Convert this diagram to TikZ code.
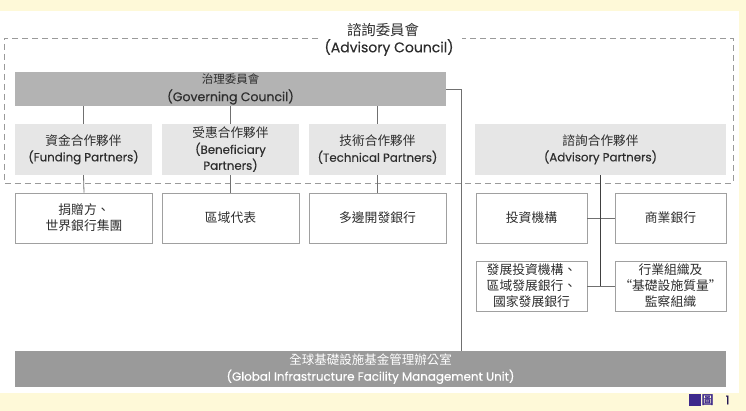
\documentclass[tikz,border=0pt]{standalone}
\usepackage{fontspec}
\setmainfont{Poppins}[FakeBold=0.35]
\newfontfamily\cjk{Noto Sans CJK TC}
\definecolor{bgyellow}{HTML}{FEF9D8}
\definecolor{govgray}{HTML}{B3B3B3}
\definecolor{partgray}{HTML}{E6E6E6}
\definecolor{gifgray}{HTML}{9A9A9A}
\definecolor{txt}{HTML}{2E2E2E}
\definecolor{linegray}{HTML}{707070}
\definecolor{boxline}{HTML}{A0A0A0}
\definecolor{dashgray}{HTML}{9A9A9A}
\definecolor{figpurple}{HTML}{3E2A8C}
\newcommand{\zh}[2]{{\cjk\fontsize{#1}{16}\selectfont #2}}
\begin{document}
\begin{tikzpicture}[x=1pt,y=-1pt,
  base/.style={inner sep=0pt, align=center, text=txt, font=\fontsize{11.8}{16}\selectfont},
  govbox/.style={base, fill=govgray, minimum width=431pt, minimum height=34pt, font=\fontsize{12.5}{18}\selectfont},
  partbox/.style={base, fill=partgray, minimum width=137pt, minimum height=51pt},
  lowbox/.style={base, fill=white, draw=boxline, line width=0.8pt, minimum width=137pt, minimum height=50pt, font=\cjk\fontsize{12.8}{16}\selectfont},
  rbox/.style={lowbox, minimum width=111pt},
  gifbox/.style={base, fill=gifgray, text=white, minimum width=711pt, minimum height=36pt, font=\fontsize{11.9}{16}\selectfont},
  conn/.style={draw=linegray, line width=0.8pt},
]
\useasboundingbox (0,0) rectangle (746,411);
\fill[bgyellow] (0,0) rectangle (746,411);
\fill[white] (0,11) rectangle (739,393);

% dashed advisory council frame
\draw[dashgray, line width=0.9pt, dash pattern=on 6pt off 4pt]
  (318,38) -- (4,38) -- (4,183) -- (733,183) -- (733,38) -- (462,38);
\node[base, font=\fontsize{14}{17}\selectfont] (ac) at (389,39.5) {\zh{14.4}{諮詢委員會}\hspace*{12pt}\\(Advisory Council)};

% governing council
\node[govbox] (gov) at (230.5,89) {\zh{11.5}{治理委員會}\\(Governing Council)};

% partner boxes
\node[partbox] (fund) at (83.5,149.5) {\zh{12.7}{資金合作夥伴}\\(Funding Partners)};
\node[partbox] (bene) at (230.5,149.5) {\zh{12.7}{受惠合作夥伴}\\(Beneficiary\\Partners)};
\node[partbox] (tech) at (377.5,149.5) {\zh{12.7}{技術合作夥伴}\\(Technical Partners)};
\node[partbox, minimum width=251pt] (adv) at (600.5,149.5) {\zh{12.7}{諮詢合作夥伴}\\(Advisory Partners)};

% lower boxes
\node[lowbox] (fundlow) at (84,218) {捐贈方、\\世界銀行集團};
\node[lowbox] (benelow) at (230.5,218) {區域代表};
\node[lowbox] (techlow) at (377.5,218) {多邊開發銀行};
\node[rbox] (inv) at (531.5,218) {投資機構};
\node[rbox] (com) at (670.5,218) {商業銀行};
\node[rbox] (dev) at (531.5,286) {發展投資機構、\\區域發展銀行、\\國家發展銀行};
\node[rbox] (ind) at (670.5,286) {行業組織及\\“基礎設施質量”\\監察組織};

% GIF management unit
\node[gifbox] (gif) at (370.5,369) {\zh{12.5}{全球基礎設施基金管理辦公室}\\(Global Infrastructure Facility Management Unit)};

% connectors
\coordinate (gx) at (461,0);
\draw[conn] (fund.north |- gov.south) -- (fund.north);
\draw[conn] (bene.north |- gov.south) -- (bene.north);
\draw[conn] (tech.north |- gov.south) -- (tech.north);
\draw[conn] (fund.south) -- (fundlow.north);
\draw[conn] (bene.south) -- (benelow.north);
\draw[conn] (tech.south) -- (techlow.north);
\draw[conn] (gov.east) -- (gov.east -| gx) -- (gx |- gif.north);
\draw[conn] (inv.east) -- (com.west);
\draw[conn] (dev.east) -- (ind.west);
\draw[draw=black!75, line width=1.2pt] (adv.south) -- (adv.south |- dev.east);

% figure label
\fill[figpurple] (689,394) rectangle (701,406);
\node[inner sep=0pt, text=figpurple, font=\cjk\bfseries\fontsize{12}{12}\selectfont] (figc) at (707.5,400) {圖};
\node[inner sep=0pt, text=figpurple!60!black, font=\fontsize{12}{12}\selectfont] (fign) at (727.5,400) {1};
\end{tikzpicture}
\end{document}
